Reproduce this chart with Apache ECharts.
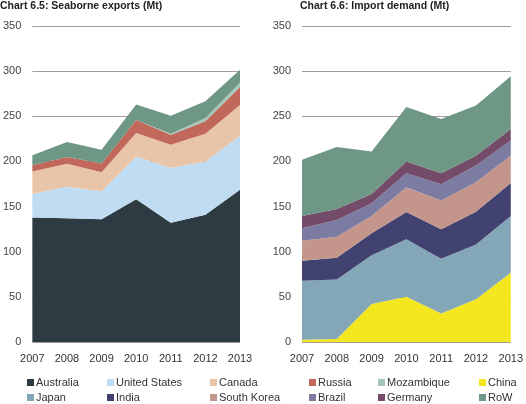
<!DOCTYPE html>
<html><head><meta charset="utf-8">
<script src="https://cdn.jsdelivr.net/npm/echarts@6/dist/echarts.min.js"></script>
<style>html,body{margin:0;padding:0;background:#fff}#c{width:526px;height:404px}</style>
</head><body><div id="c"></div>
<script>
var years = ['2007','2008','2009','2010','2011','2012','2013'];
// Chart 6.5 Seaborne exports (Mt)
var australia   = [137.8, 137, 136, 158, 132, 141, 168.5];
var unitedStates= [26, 35, 31, 47.5, 60.6, 59, 60];
var canada      = [25, 25.4, 21, 26, 26, 30.7, 34];
var russia      = [7, 7.6, 9.8, 14.5, 11, 13.7, 20];
var mozambique  = [0, 0, 0, 0, 1, 3.6, 5];
var rowExports  = [11, 16.5, 15, 17, 20, 18.7, 14];
// Chart 6.6 Import demand (Mt)
var china       = [2.6, 3.3, 42, 50, 31.5, 47.4, 76.7];
var japan       = [65.2, 66, 54, 63.7, 60.7, 60.6, 62.9];
var india       = [22.2, 24, 24.4, 30.3, 32.6, 36.4, 36.4];
var southKorea  = [22.2, 23.4, 19.2, 27.5, 31.9, 32.6, 30.3];
var brazil      = [13.8, 18.3, 14.1, 15.5, 18.1, 18.6, 17];
var germany     = [13.6, 12.4, 10.3, 13, 12.2, 10.7, 12.7];
var rowImports  = [62.3, 68.6, 47, 60.4, 60, 55.7, 58.4];

var colors = {
  'Australia':'#2f3b42','United States':'#c0dcf2','Canada':'#e8c5a8','Russia':'#c1685a',
  'Mozambique':'#a3c6b8','China':'#f5e71f','Japan':'#84a7b7','India':'#41426f',
  'South Korea':'#c4968b','Brazil':'#7c7ca2','Germany':'#744b68','RoW':'#6e9786'
};
var font = 'Liberation Sans, Arial, sans-serif';

function area(name, data, idx, stack){
  return {name:name, type:'line', stack:stack, data:data, xAxisIndex:idx, yAxisIndex:idx,
    symbol:'none', showSymbol:false, smooth:false,
    lineStyle:{width:0}, itemStyle:{color:colors[name]},
    areaStyle:{color:colors[name], opacity:1}, emphasis:{disabled:true}};
}
function xA(idx){
  return {type:'category', gridIndex:idx, data:years, boundaryGap:false,
    axisLine:{show:false}, axisTick:{show:false},
    axisLabel:{color:'#333', fontSize:11, fontFamily:font, margin:11}};
}
function yA(idx){
  return {type:'value', gridIndex:idx, min:0, max:350, interval:50,
    axisLine:{show:false}, axisTick:{show:false},
    axisLabel:{color:'#444', fontSize:11, fontFamily:font, margin:11, padding:[0,0,4,0]},
    splitLine:{lineStyle:{color:'#a89a98', width:1}}};
}
var cols = [['Australia','Japan'],['United States','India'],['Canada','South Korea'],
            ['Russia','Brazil'],['Mozambique','Germany'],['China','RoW']];
var colX = [27, 107, 210, 309, 378, 479];
var legends = cols.map(function(c,i){
  return {data:c, orient:'vertical', left:colX[i], top:376, height:40, padding:0,
    itemWidth:7, itemHeight:7, itemGap:2, icon:'rect', selectedMode:false,
    textStyle:{color:'#333', fontSize:11, fontFamily:font, padding:[0,0,0,-3], lineHeight:13}};
});
var chart = echarts.init(document.getElementById('c'), null, {renderer:'canvas'});
chart.setOption({
  animation:false,
  title:[
    {text:'Chart 6.5: Seaborne exports (Mt)', left:0, top:1, padding:0, textStyle:{fontSize:10.5, fontWeight:'bold', color:'#222', fontFamily:font}},
    {text:'Chart 6.6: Import demand (Mt)', left:300, top:1, padding:0, textStyle:{fontSize:10.5, fontWeight:'bold', color:'#222', fontFamily:font}}
  ],
  legend:legends,
  grid:[
    {left:29, right:286, top:26, bottom:62},
    {left:302, right:12, top:26, bottom:62}
  ],
  xAxis:[xA(0), xA(1)],
  yAxis:[yA(0), yA(1)],
  series:[
    area('Australia', australia, 0, 'e'),
    area('United States', unitedStates, 0, 'e'),
    area('Canada', canada, 0, 'e'),
    area('Russia', russia, 0, 'e'),
    area('Mozambique', mozambique, 0, 'e'),
    area('RoW', rowExports, 0, 'e'),
    area('China', china, 1, 'i'),
    area('Japan', japan, 1, 'i'),
    area('India', india, 1, 'i'),
    area('South Korea', southKorea, 1, 'i'),
    area('Brazil', brazil, 1, 'i'),
    area('Germany', germany, 1, 'i'),
    area('RoW', rowImports, 1, 'i')
  ]
});
</script></body></html>
